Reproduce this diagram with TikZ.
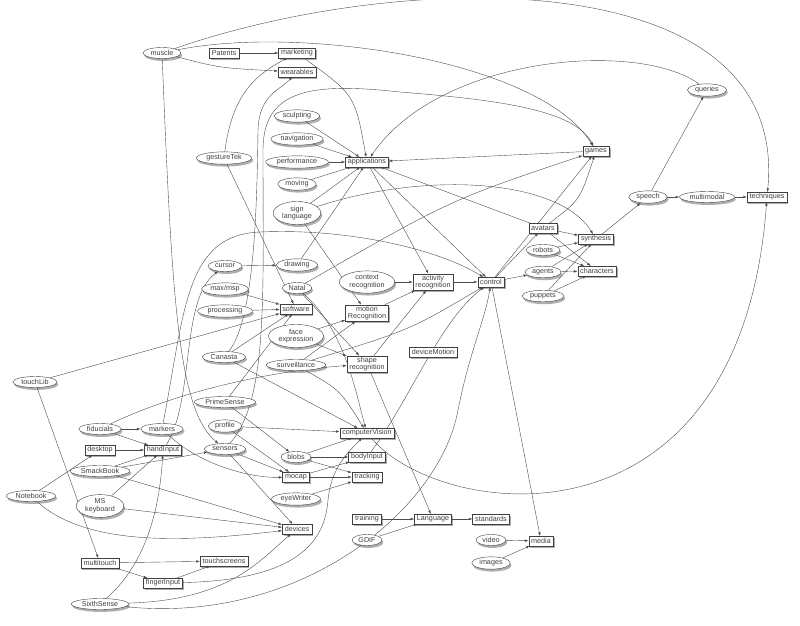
\documentclass[tikz,border=0pt]{standalone}
\usepackage{fontspec}
\setmainfont{Liberation Sans}
\usetikzlibrary{shapes.geometric,arrows.meta,shadows,backgrounds}
\tikzset{
  rbox/.style={draw=black!75, fill=white, rectangle, inner xsep=2.5pt, inner ysep=1pt,
    minimum height=9.5pt, align=center, font=\fontsize{7.2}{7.6}\selectfont, text=black!75,
    drop shadow={shadow xshift=1.3pt, shadow yshift=-2.2pt, opacity=.45, fill=black!70}},
  oval/.style={draw=black!75, fill=white, ellipse, inner xsep=2pt, inner ysep=1pt,
    minimum height=11pt, align=center, font=\fontsize{7.2}{7.6}\selectfont, text=black!75,
    drop shadow={shadow xshift=1.3pt, shadow yshift=-2.4pt, opacity=.45, fill=black!70}},
  arr/.style={draw=black!70, line width=.4pt, -{Latex[length=3.6pt,width=2.6pt]}}
}
\begin{document}
\begin{tikzpicture}[x=1pt,y=-1pt]
\useasboundingbox (0,0) rectangle (800,625);
% upper part
\node[oval] (muscle) at (162,53) {muscle};
\node[rbox] (patents) at (224,53) {Patents};
\node[rbox] (marketing) at (297,53) {marketing};
\node[rbox] (wearables) at (297,72) {wearables};
\node[oval] (gesture) at (224,158) {gestureTek};
\node[oval] (sculpt) at (297,116) {sculpting};
\node[oval] (navig) at (297,139) {navigation};
\node[oval] (perform) at (297,162) {performance};
\node[rbox] (apps) at (367,162) {applications};
\node[oval] (moving) at (297,184) {moving};
\node[oval] (sign) at (297,213) {sign\\language};
\node[rbox] (games) at (596,151) {games};
\node[oval] (queries) at (707,90) {queries};
\node[oval] (speech) at (648,197) {speech};
\node[oval] (multimodal) at (707,197) {multimodal};
\node[rbox] (techniques) at (767,197) {techniques};
% right middle
\node[rbox] (avatars) at (543,228) {avatars};
\node[rbox] (synth) at (596,239) {synthesis};
\node[oval] (robots) at (543,250) {robots};
\node[oval] (agents) at (543,272) {agents};
\node[rbox] (chars) at (597,271) {characters};
\node[oval] (puppets) at (543,296) {puppets};
\node[rbox] (control) at (491,282) {control};
\node[rbox] (activity) at (433,282) {activity\\recognition};
\node[oval] (context) at (367,282) {context\\recognition};
% middle
\node[oval] (drawing) at (297,265) {drawing};
\node[oval] (natal) at (297,288) {Natal};
\node[oval] (cursor) at (225,266) {cursor};
\node[oval] (maxmsp) at (225,289) {max/msp};
\node[oval] (processing) at (225,311) {processing};
\node[rbox] (software) at (296,309) {software};
\node[rbox] (motion) at (367,313) {motion\\Recognition};
\node[oval] (face) at (296,336) {face\\expression};
\node[oval] (canasta) at (224,357) {Canasta};
\node[oval] (surveil) at (296,365) {surveillance};
\node[rbox] (shape) at (367,364) {shape\\recognition};
\node[rbox] (devmotion) at (433,352) {deviceMotion};
\node[oval] (touchlib) at (35,382) {touchLib};
\node[oval] (prime) at (225,402) {PrimeSense};
% lower part
\node[oval] (fiducials) at (100,429) {fiducials};
\node[oval] (markers) at (162,429) {markers};
\node[oval] (profile) at (225,426) {profile};
\node[rbox] (cv) at (367,433) {computerVision};
\node[rbox] (desktop) at (100,450) {desktop};
\node[rbox] (handinput) at (163,450) {handInput};
\node[oval] (sensors) at (225,449) {sensors};
\node[oval] (blobs) at (296,457) {blobs};
\node[rbox] (bodyinput) at (367,457) {bodyInput};
\node[oval] (smack) at (100,471) {SmackBook};
\node[rbox] (mocap) at (296,477) {mocap};
\node[rbox] (tracking) at (367,477) {tracking};
\node[oval] (notebook) at (31,496) {Notebook};
\node[oval] (mskey) at (100,506) {MS\\keyboard};
\node[oval] (eyewriter) at (296,499) {eyeWriter};
\node[rbox] (training) at (367,519) {training};
\node[rbox] (language) at (433,519) {Language};
\node[rbox] (standards) at (491,519) {standards};
\node[rbox] (devices) at (297,529) {devices};
\node[oval] (gdif) at (367,540) {GDIF};
\node[oval] (video) at (491,540) {video};
\node[rbox] (media) at (541,541) {media};
\node[oval] (images) at (491,563) {images};
\node[rbox] (multitouch) at (100,563) {multitouch};
\node[rbox] (touchscreens) at (224,561) {touchscreens};
\node[rbox] (finger) at (163,583) {fingerInput};
\node[oval] (sixth) at (100,604) {SixthSense};

\begin{scope}[on background layer]
% straight links
\draw[arr] (patents) -- (marketing);
\draw[arr] (sculpt) -- (apps); \draw[arr] (navig) -- (apps);
\draw[arr] (perform) -- (apps); \draw[arr] (moving) -- (apps);
\draw[arr] (sign) -- (apps); \draw[arr] (sign) -- (motion);
\draw[arr] (drawing) -- (apps); \draw[arr] (cursor) -- (drawing);
\draw[arr] (games) -- (apps); \draw[arr] (avatars) -- (apps);
\draw[arr] (apps) -- (activity); \draw[arr] (apps) -- (control);
\draw[arr] (context) -- (activity); \draw[arr] (motion) -- (activity);
\draw[arr] (shape) -- (activity); \draw[arr] (activity) -- (control);
\draw[arr] (control) -- (avatars); \draw[arr] (control) -- (agents);
\draw[arr] (control) -- (games); \draw[arr] (control) -- (media);
\draw[arr] (avatars) -- (synth); \draw[arr] (avatars) -- (chars);
\draw[arr] (robots) -- (synth); \draw[arr] (robots) -- (chars);
\draw[arr] (agents) -- (synth); \draw[arr] (agents) -- (chars);
\draw[arr] (puppets) -- (synth); \draw[arr] (puppets) -- (chars);
\draw[arr] (synth) -- (speech); \draw[arr] (speech) -- (queries);
\draw[arr] (speech) -- (multimodal); \draw[arr] (multimodal) -- (techniques);
\draw[arr] (natal) -- (shape); \draw[arr] (gesture) -- (software);
\draw[arr] (maxmsp) -- (software); \draw[arr] (processing) -- (software);
\draw[arr] (touchlib) -- (software); \draw[arr] (prime) -- (software);
\draw[arr] (canasta) -- (software); \draw[arr] (prime) -- (blobs);
\draw[arr] (canasta) -- (cv);
\draw[arr] (face) -- (motion); \draw[arr] (face) -- (shape);
\draw[arr] (surveil) -- (motion);
\draw[arr] (fiducials) -- (markers); \draw[arr] (fiducials) -- (handinput);
\draw[arr] (profile) -- (cv); \draw[arr] (profile) -- (mocap);
\draw[arr] (sensors) -- (mocap); \draw[arr] (sensors) -- (devices);
\draw[arr] (blobs) -- (cv); \draw[arr] (blobs) -- (bodyinput);
\draw[arr] (blobs) -- (tracking); \draw[arr] (mocap) -- (bodyinput);
\draw[arr] (mocap) -- (tracking); \draw[arr] (eyewriter) -- (tracking);
\draw[arr] (notebook) -- (desktop); \draw[arr] (desktop) -- (handinput);
\draw[arr] (smack) -- (handinput); \draw[arr] (smack) -- (sensors);
\draw[arr] (smack) -- (devices); \draw[arr] (mskey) -- (handinput);
\draw[arr] (mskey) -- (devices); \draw[arr] (touchlib) -- (multitouch);
\draw[arr] (multitouch) -- (touchscreens); \draw[arr] (multitouch) -- (finger);
\draw[arr] (finger) -- (touchscreens);
\draw[arr] (training) -- (language); \draw[arr] (gdif) -- (language);
\draw[arr] (language) -- (standards); \draw[arr] (shape) -- (language);
\draw[arr] (video) -- (media); \draw[arr] (images) -- (media);
% curved links
\draw[arr] (muscle) .. controls (400,-30) and (790,-40) .. (techniques);
\draw[arr] (muscle) .. controls (300,25) and (540,60) .. (games);
\draw[arr] (muscle) .. controls (220,68) .. (wearables);
\draw[arr] (muscle) .. controls (172,300) and (178,410) .. (sensors);
\draw[arr] (marketing) .. controls (355,95) .. (apps);
\draw[arr] (gesture) .. controls (232,95) and (255,75) .. (marketing);
\draw[arr] (queries) .. controls (640,40) and (440,55) .. (apps);
\draw[arr] (sign) .. controls (430,170) and (560,180) .. (synth);
\draw[arr] (natal) .. controls (450,200) .. (games);
\draw[arr] (avatars) .. controls (580,200) .. (games);
\draw[arr] (natal) .. controls (345,330) and (355,390) .. (cv);
\draw[arr] (surveil) .. controls (410,330) .. (control);
\draw[arr] (surveil) .. controls (340,390) .. (cv);
\draw[arr] (fiducials) .. controls (170,395) and (260,372) .. (shape);
\draw[arr] (markers) .. controls (200,465) and (250,478) .. (mocap);
\draw[arr] (markers) .. controls (185,310) and (185,235) .. (260,232)
  .. controls (350,228) and (440,250) .. (control);
\draw[arr] (handinput) .. controls (195,400) and (180,300) .. (cursor);
\draw[arr] (canasta) .. controls (255,320) and (257,200) .. (258,130)
  .. controls (259,95) and (280,90) .. (wearables);
\draw[arr] (sensors) .. controls (268,400) and (263,300) .. (263,150)
  .. controls (263,90) and (310,82) .. (400,92) .. controls (500,100) and (575,110) .. (games);
\draw[arr] (bodyinput) .. controls (410,400) and (440,320) .. (control);
\draw[arr] (cv) .. controls (440,520) and (740,560) .. (techniques);
\draw[arr] (notebook) .. controls (90,550) and (200,540) .. (devices);
\draw[arr] (sixth) .. controls (230,600) and (260,560) .. (devices);
\draw[arr] (sixth) .. controls (150,560) and (160,500) .. (handinput);
\draw[arr] (sixth) .. controls (300,625) and (440,510) .. (458,410)
  .. controls (470,350) and (485,320) .. (control);
\draw[arr] (finger) .. controls (300,580) and (325,540) .. (328,500)
  .. controls (331,470) and (345,455) .. (cv);
\end{scope}
\end{tikzpicture}
\end{document}
